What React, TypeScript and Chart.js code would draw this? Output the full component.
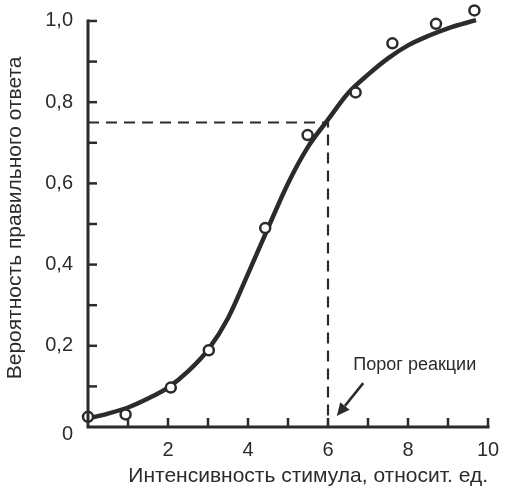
import { useEffect, useRef } from "react";
import { Chart, registerables } from "chart.js";

Chart.register(...registerables);

// Measured points (stimulus intensity, probability of correct answer)
const sampleX = [0.0, 0.94, 2.07, 3.02, 4.43, 5.49, 6.69, 7.61, 8.7, 9.66];
const sampleY = [0.025, 0.031, 0.097, 0.189, 0.49, 0.719, 0.824, 0.945, 0.993, 1.026];

// Fitted psychometric curve
const curveX = [0, 0.5, 1, 1.5, 2, 2.5, 3, 3.5, 4, 4.5, 5, 5.5, 6, 6.5, 7, 7.5, 8, 8.5, 9, 9.7];
const curveY = [0.021, 0.033, 0.048, 0.07, 0.097, 0.137, 0.19, 0.268, 0.377, 0.49, 0.6, 0.69, 0.757, 0.822, 0.868, 0.908, 0.94, 0.963, 0.982, 1.002];

// Threshold guide
const thresholdX = 6;
const thresholdY = 0.75;

// Axis ranges
const xMin = 0;
const xMax = 10;
const yMin = 0;
const yAxisTop = 1;
const yScaleMax = 1.03; // a little headroom so the top marker is not cut

// Annotation
const annotationText = "Порог реакции";
const annotationAt = [8.17, 0.153];
const arrowFrom = [6.88, 0.108];
const arrowTo = [6.22, 0.027];

const xTitle = "Интенсивность стимула, относит. ед.";
const yTitle = "Вероятность правильного ответа";

const INK = "#2b2b2b";
const FONT = "'Liberation Sans', Arial, sans-serif";

export default function App() {
  const ref = useRef<HTMLCanvasElement | null>(null);

  useEffect(() => {
    document.body.style.margin = "0";
    const canvas = ref.current!;

    const axesPlugin = {
      id: "axesPlugin",
      afterDatasetsDraw(chart: any) {
        const { ctx } = chart;
        const xs = chart.scales.x;
        const ys = chart.scales.y;
        const x0 = xs.getPixelForValue(xMin);
        const x1 = xs.getPixelForValue(xMax);
        const y0 = ys.getPixelForValue(yMin);
        const y1 = ys.getPixelForValue(yAxisTop);
        ctx.save();
        ctx.strokeStyle = INK;
        // inward ticks
        ctx.lineWidth = 2.5;
        ctx.lineCap = "butt";
        for (let i = xMin + 1; i <= xMax; i++) {
          const px = xs.getPixelForValue(i);
          ctx.beginPath();
          ctx.moveTo(px, y0);
          ctx.lineTo(px, y0 - 9);
          ctx.stroke();
        }
        for (let i = 1; i <= 10; i++) {
          const py = ys.getPixelForValue(i / 10);
          ctx.beginPath();
          ctx.moveTo(x0, py);
          ctx.lineTo(x0 + 9, py);
          ctx.stroke();
        }
        // axis lines
        ctx.lineWidth = 3;
        ctx.lineCap = "square";
        ctx.beginPath();
        ctx.moveTo(x0, y1);
        ctx.lineTo(x0, y0);
        ctx.lineTo(x1, y0);
        ctx.stroke();

        // annotation text
        ctx.fillStyle = INK;
        ctx.font = `18px ${FONT}`;
        ctx.textAlign = "center";
        ctx.textBaseline = "middle";
        ctx.fillText(annotationText, xs.getPixelForValue(annotationAt[0]), ys.getPixelForValue(annotationAt[1]));

        // arrow
        const ax = xs.getPixelForValue(arrowFrom[0]);
        const ay = ys.getPixelForValue(arrowFrom[1]);
        const bx = xs.getPixelForValue(arrowTo[0]);
        const by = ys.getPixelForValue(arrowTo[1]);
        const ang = Math.atan2(by - ay, bx - ax);
        const headLen = 13;
        const headW = 6;
        const hx = bx - headLen * Math.cos(ang);
        const hy = by - headLen * Math.sin(ang);
        ctx.lineWidth = 2.5;
        ctx.lineCap = "butt";
        ctx.beginPath();
        ctx.moveTo(ax, ay);
        ctx.lineTo(hx, hy);
        ctx.stroke();
        ctx.beginPath();
        ctx.moveTo(bx, by);
        ctx.lineTo(hx + headW * Math.sin(ang), hy - headW * Math.cos(ang));
        ctx.lineTo(hx - headW * Math.sin(ang), hy + headW * Math.cos(ang));
        ctx.closePath();
        ctx.fill();
        ctx.restore();
      },
    };

    const chart = new Chart(canvas, {
      type: "line",
      data: {
        datasets: [
          {
            label: "points",
            data: sampleX.map((x, i) => ({ x, y: sampleY[i] })),
            showLine: false,
            pointRadius: 5,
            pointBorderWidth: 2.5,
            pointBackgroundColor: "#ffffff",
            pointBorderColor: INK,
            clip: false as any,
          },
          {
            label: "curve",
            data: curveX.map((x, i) => ({ x, y: curveY[i] })),
            borderColor: INK,
            borderWidth: 4.5,
            pointRadius: 0,
            cubicInterpolationMode: "monotone",
            fill: false,
            clip: false as any,
          },
          {
            label: "threshold",
            data: [
              { x: xMin, y: thresholdY },
              { x: thresholdX, y: thresholdY },
              { x: thresholdX, y: yMin },
            ],
            borderColor: INK,
            borderWidth: 2.2,
            borderDash: [11, 7],
            pointRadius: 0,
            tension: 0,
            fill: false,
          },
        ],
      },
      options: {
        animation: false,
        responsive: false,
        devicePixelRatio: 1,
        layout: { padding: { left: 0, top: 8.8, right: 19, bottom: 0 } },
        plugins: { legend: { display: false }, tooltip: { enabled: false } },
        scales: {
          x: {
            type: "linear",
            min: xMin,
            max: xMax,
            afterFit: (s: any) => {
              s.height = 63;
              s.paddingLeft = 0;
              s.paddingRight = 0;
            },
            grid: { display: false, drawTicks: false },
            border: { display: false },
            ticks: {
              stepSize: 1,
              autoSkip: false,
              maxRotation: 0,
              padding: 11,
              color: INK,
              font: { family: FONT, size: 20 },
              callback: (v: any) => (v !== 0 && v % 2 === 0 ? String(v) : ""),
            },
            title: {
              display: true,
              text: xTitle,
              align: "end",
              color: INK,
              font: { family: FONT, size: 21 },
              padding: { top: 0, bottom: 1 },
            },
          },
          y: {
            type: "linear",
            min: yMin,
            max: yScaleMax,
            afterFit: (s: any) => {
              s.width = 88;
              s.paddingTop = 0;
              s.paddingBottom = 0;
            },
            grid: { display: false, drawTicks: false },
            border: { display: false },
            ticks: {
              stepSize: 0.1,
              includeBounds: false,
              autoSkip: false,
              padding: 15,
              color: INK,
              // the origin label sits a little below the axis, as in the source
              font: (c: any) =>
                c.tick && Math.abs(c.tick.value) < 1e-9
                  ? { family: FONT, size: 20, lineHeight: 0.7 }
                  : { family: FONT, size: 20 },
              callback: (v: any) => {
                const n = Number(v);
                if (n > yAxisTop + 1e-6) return "";
                const k = Math.round(n * 10);
                if (Math.abs(n * 10 - k) > 1e-6) return "";
                if (k % 2 !== 0) return "";
                if (k === 0) return ["", "0"];
                return (k / 10).toFixed(1).replace(".", ",");
              },
            },
            title: {
              display: true,
              text: yTitle,
              color: INK,
              font: { family: FONT, size: 21 },
              padding: { top: 3, bottom: 0 },
            },
          },
        },
      },
      plugins: [axesPlugin],
    });

    return () => chart.destroy();
  }, []);

  return <canvas ref={ref} width={507} height={490} style={{ display: "block", width: 507, height: 490 }} />;
}
